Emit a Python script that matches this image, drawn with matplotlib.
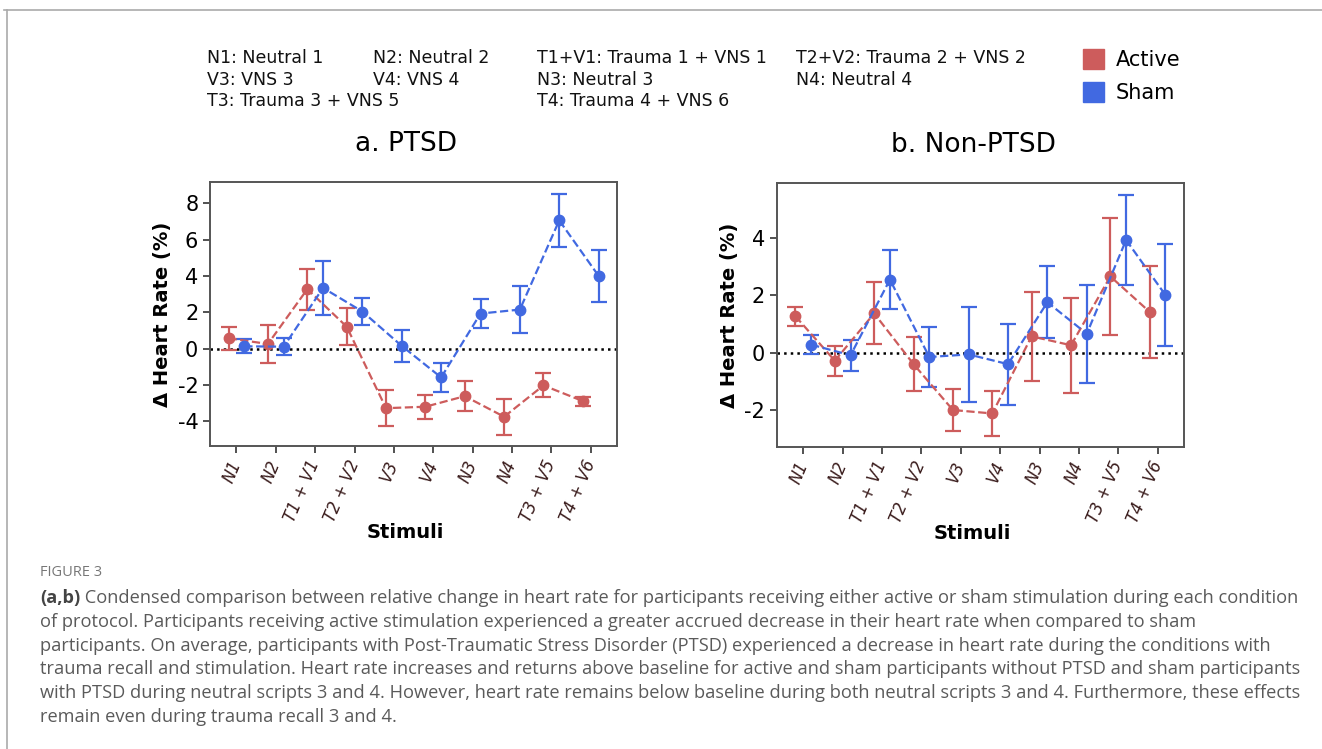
"""
Figure 3: heart rate change per stimulus, active vs sham, PTSD / non-PTSD
"""
import numpy as np
import matplotlib
matplotlib.use('Agg')
import matplotlib.pyplot as plt
from matplotlib.patches import Patch
from matplotlib.lines import Line2D

plt.rcParams.update({'font.family': 'DejaVu Sans', 'font.size': 12})

RED, BLUE = '#CD5C5C', '#4169E1'
TICKC = '#3a1c1c'

stimuli = ['N1', 'N2', 'T1 + V1', 'T2 + V2', 'V3', 'V4', 'N3', 'N4', 'T3 + V5', 'T4 + V6']

# panel a: PTSD
ptsd_active = [0.57, 0.26, 3.27, 1.21, -3.27, -3.19, -2.61, -3.74, -2.02, -2.88]
ptsd_active_err = [0.64, 1.02, 1.13, 1.03, 0.99, 0.67, 0.83, 0.99, 0.66, 0.25]
ptsd_sham = [0.13, 0.11, 3.34, 2.04, 0.15, -1.58, 1.93, 2.15, 7.05, 4.00]
ptsd_sham_err = [0.38, 0.46, 1.49, 0.73, 0.89, 0.82, 0.79, 1.29, 1.46, 1.43]

# panel b: non-PTSD
non_active = [1.27, -0.28, 1.37, -0.40, -2.00, -2.12, 0.57, 0.26, 2.66, 1.42]
non_active_err = [0.34, 0.53, 1.08, 0.93, 0.74, 0.77, 1.55, 1.65, 2.04, 1.62]
non_sham = [0.28, -0.09, 2.55, -0.15, -0.06, -0.40, 1.76, 0.66, 3.93, 2.01]
non_sham_err = [0.34, 0.54, 1.02, 1.04, 1.65, 1.41, 1.25, 1.70, 1.58, 1.77]

key_rows = [
    ['N1: Neutral 1', 'N2: Neutral 2', 'T1+V1: Trauma 1 + VNS 1', 'T2+V2: Trauma 2 + VNS 2'],
    ['V3: VNS 3', 'V4: VNS 4', 'N3: Neutral 3', 'N4: Neutral 4'],
    ['T3: Trauma 3 + VNS 5', '', 'T4: Trauma 4 + VNS 6', ''],
]

caption_lines = [
    ' Condensed comparison between relative change in heart rate for participants receiving either active or sham stimulation during each condition',
    'of protocol. Participants receiving active stimulation experienced a greater accrued decrease in their heart rate when compared to sham',
    'participants. On average, participants with Post-Traumatic Stress Disorder (PTSD) experienced a decrease in heart rate during the conditions with',
    'trauma recall and stimulation. Heart rate increases and returns above baseline for active and sham participants without PTSD and sham participants',
    'with PTSD during neutral scripts 3 and 4. However, heart rate remains below baseline during both neutral scripts 3 and 4. Furthermore, these effects',
    'remain even during trauma recall 3 and 4.',
]

fig = plt.figure(figsize=(13.22, 7.49), dpi=100)

# page frame
fig.add_artist(Line2D([0.003, 1.0], [1 - 10/749, 1 - 10/749], color='#aaaaaa', lw=1.2))
fig.add_artist(Line2D([7/1322, 7/1322], [0, 1 - 10/749], color='#aaaaaa', lw=1.2))

ax1 = fig.add_axes([0.1589, 0.4045, 0.3079, 0.3525])
ax2 = fig.add_axes([0.5877, 0.4032, 0.3079, 0.3525])


def panel(ax, act, act_e, sham, sham_e, title, ylim, yticks):
    x = np.arange(len(stimuli))
    d = 0.2
    ax.errorbar(x - d, act, yerr=act_e, color=RED, ls='--', lw=1.6, marker='o', ms=7.5,
                capsize=6, elinewidth=1.6, capthick=1.6, zorder=3)
    ax.errorbar(x + d, sham, yerr=sham_e, color=BLUE, ls='--', lw=1.6, marker='o', ms=7.5,
                capsize=6, elinewidth=1.6, capthick=1.6, zorder=3)
    ax.axhline(0, color='black', ls=':', lw=1.8, zorder=2)
    ax.set_xlim(-0.67, 9.67)
    ax.set_ylim(*ylim)
    ax.set_yticks(yticks)
    ax.set_yticklabels([str(t) for t in yticks], fontsize=15)
    ax.set_xticks(x)
    ax.set_xticklabels(stimuli, rotation=67, ha='right', va='center',
                       rotation_mode='anchor', fontsize=13, fontstretch='condensed',
                       style='italic', color=TICKC)
    ax.tick_params(axis='both', length=5, width=1.2, color='#333333')
    ax.tick_params(axis='x', pad=6)
    for s in ax.spines.values():
        s.set_color('#555555')
        s.set_linewidth(1.4)
    ax.set_ylabel('Δ Heart Rate (%)', fontsize=14, fontweight='bold', labelpad=4)
    ax.set_xlabel('Stimuli', fontsize=14, fontweight='bold')
    ax.xaxis.set_label_coords(0.48, -0.29)
    ax.set_title(title, fontsize=19, pad=22, x=0.482)


panel(ax1, ptsd_active, ptsd_active_err, ptsd_sham, ptsd_sham_err,
      'a. PTSD', (-5.35, 9.16), [-4, -2, 0, 2, 4, 6, 8])
panel(ax2, non_active, non_active_err, non_sham, non_sham_err,
      'b. Non-PTSD', (-3.29, 5.92), [-2, 0, 2, 4])

# abbreviation key
col_x = [207, 373, 537, 796]
row_y = [58, 80, 101]
for r, row in enumerate(key_rows):
    for c, txt in enumerate(row):
        if txt:
            fig.text(col_x[c] / 1322, 1 - row_y[r] / 749, txt, fontsize=12.5,
                     va='center', ha='left', color='#111111')

fig.legend(handles=[Patch(color=RED, label='Active'), Patch(color=BLUE, label='Sham')],
           loc='upper left', bbox_to_anchor=(1064/1322, 1 - 30/749), frameon=False,
           fontsize=15, handlelength=1.0, handleheight=1.1, handletextpad=0.6,
           labelspacing=0.6)

# caption
cap_font = ['Open Sans', 'DejaVu Sans']
fig.text(40/1322, 1 - 573/749, 'FIGURE 3', fontsize=10.5, color='#777777',
         family=cap_font, va='center')
y0 = 598
t = fig.text(40/1322, 1 - y0/749, '(a,b)', fontsize=13.15, color='#444444',
             fontweight='bold', family=cap_font, va='center')
fig.canvas.draw()
bb = t.get_window_extent()
for i, line in enumerate(caption_lines):
    xx = bb.x1 / fig.bbox.width if i == 0 else 40/1322
    fig.text(xx, 1 - (y0 + i*23.8)/749, line, fontsize=13.15, color='#5a5a5a',
             family=cap_font, va='center')

fig.savefig('out.png', dpi=100)
